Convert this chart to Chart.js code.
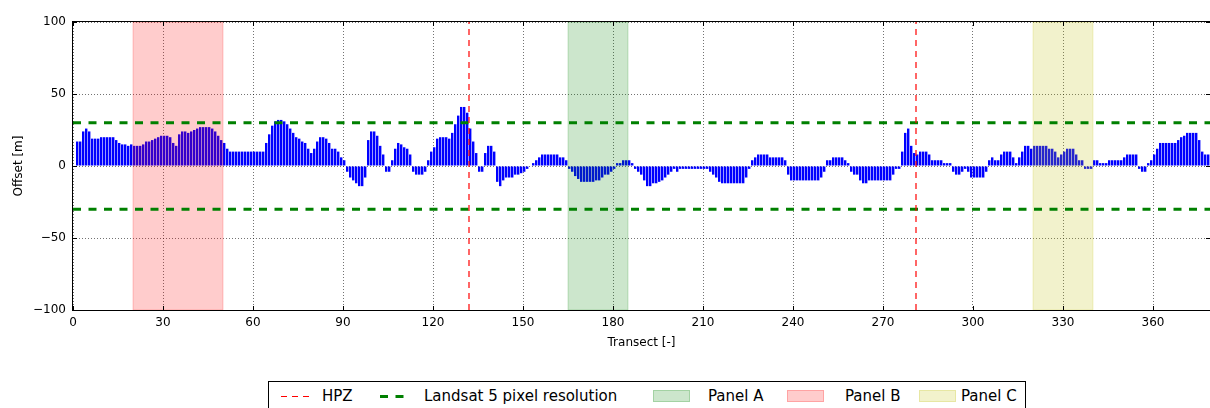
<!DOCTYPE html>
<html>
<head>
<meta charset="utf-8">
<script src="https://cdn.jsdelivr.net/npm/chart.js@4.4.0/dist/chart.umd.min.js"></script>
<style>
  body { margin: 0; background: #fff; width: 1210px; height: 408px; overflow: hidden; position: relative; font-family: "DejaVu Sans", sans-serif; }
  #wrap { position: absolute; left: 0; top: 0; width: 1210px; height: 360px; }
  .legend { position: absolute; left: 268px; top: 381px; width: 758px; height: 40px; border: 1px solid #000; box-sizing: border-box; background: #fff; }
  .legend .it { position: absolute; top: 5px; font-size: 15px; line-height: 18px; color: #000; white-space: nowrap; }
  .legend svg { position: absolute; top: 6px; }
  .legend .patch { position: absolute; top: 8px; width: 37px; height: 12px; box-sizing: border-box; }
</style>
</head>
<body>
<div id="wrap"><canvas id="myChart" width="1210" height="360"></canvas></div>
<div class="legend" id="legend"></div>
<script>
// bar offsets per transect, index = transect number
const offsets = [
  0,17,17,24,26,24,19,19,19,20,
  20,20,20,20,18,16,15,15,14,15,
  14,14,14,15,17,17,18,19,20,21,
  21,21,20,16,14,22,24,24,23,24,
  25,26,27,27,27,27,26,24,21,18,
  16,12,10,10,10,10,10,10,10,10,
  10,10,10,10,16,22,28,31,32,32,
  31,29,26,23,20,19,17,16,12,9,
  12,17,20,20,19,16,12,12,10,6,
  4,-4,-8,-10,-12,-14,-14,-8,18,24,
  24,21,14,8,-4,-4,4,12,16,15,
  13,12,8,-4,-6,-6,-6,-4,4,10,
  13,19,20,20,20,19,23,29,35,41,
  41,37,26,17,9,-4,-4,9,14,14,
  10,-11,-14,-10,-8,-8,-8,-6,-6,-5,
  -4,-2,0,2,4,6,8,8,8,8,
  8,8,6,6,4,-2,-4,-7,-9,-11,
  -11,-11,-11,-11,-10,-10,-8,-6,-6,-4,
  -2,2,2,4,4,4,2,-2,-4,-6,
  -10,-14,-14,-12,-12,-11,-10,-8,-6,-4,
  -2,-4,-2,-2,-2,-2,-2,-2,-2,-2,
  -2,-2,-4,-6,-8,-11,-12,-12,-12,-12,
  -12,-12,-12,-12,-8,-2,4,6,8,8,
  8,8,6,6,6,6,6,4,-6,-10,
  -10,-10,-10,-10,-10,-10,-10,-10,-10,-8,
  -4,4,4,6,6,6,6,4,2,-4,
  -6,-6,-10,-12,-12,-10,-10,-10,-10,-10,
  -10,-10,-10,-6,-2,-2,10,23,26,14,
  9,8,10,10,10,8,4,4,4,4,
  2,2,2,-4,-6,-6,-4,-2,-4,-8,
  -8,-8,-8,-8,-4,4,6,4,4,8,
  10,10,10,6,2,6,10,14,14,12,
  14,14,14,14,14,12,12,10,6,8,
  10,12,12,12,8,4,4,-2,-2,-2,
  4,4,2,2,2,4,4,4,4,4,
  6,8,8,8,8,-2,-4,-4,2,4,
  8,12,16,16,16,16,16,16,18,20,
  21,23,23,23,23,18,10,8,8
];
const xMax = 379;
const xTicks = [0, 30, 60, 90, 120, 150, 180, 210, 240, 270, 300, 330, 360];
const yTicks = [-100, -50, 0, 50, 100];
const hpz = [132, 281];
const landsat = [30, -30];
const panelNames = ['Panel A', 'Panel B', 'Panel C'];
const panelFrom = [165, 20, 320];
const panelTo = [185, 50, 340];
const panelColors = ['rgba(0,128,0,0.2)', 'rgba(255,0,0,0.2)', 'rgba(191,191,0,0.2)'];

const barWidth = 0.8; // matplotlib edge-aligned bars
const barData = offsets.map((v, i) => ({x: i + barWidth / 2, y: v}));

const datasets = [{
  type: 'bar',
  label: 'offset',
  data: barData,
  backgroundColor: '#0000ff',
  borderWidth: 0,
  barPercentage: barWidth,
  categoryPercentage: 1,
  order: 5
}];
hpz.forEach(function(x) {
  datasets.push({
    type: 'line', label: 'HPZ',
    data: [{x: x, y: -100}, {x: x, y: 100}],
    borderColor: '#ff0000', borderWidth: 1.2, borderDash: [6, 5],
    pointRadius: 0, order: 1
  });
});
landsat.forEach(function(y) {
  datasets.push({
    type: 'line', label: 'Landsat 5 pixel resolution',
    data: [{x: 0, y: y}, {x: xMax, y: y}],
    borderColor: '#008000', borderWidth: 3, borderDash: [8, 7.5],
    pointRadius: 0, order: 2
  });
});

const spans = {
  id: 'spans',
  afterDatasetDraw(chart, args) {
    if (args.meta.type !== 'bar') return;
    const ctx = chart.ctx, xs = chart.scales.x, a = chart.chartArea;
    ctx.save();
    for (let i = 0; i < panelNames.length; i++) {
      const x0 = xs.getPixelForValue(panelFrom[i]);
      const x1 = xs.getPixelForValue(panelTo[i]);
      ctx.fillStyle = panelColors[i];
      ctx.fillRect(x0, a.top, x1 - x0, a.bottom - a.top);
      ctx.strokeStyle = panelColors[i];
      ctx.lineWidth = 1;
      ctx.strokeRect(x0, a.top, x1 - x0, a.bottom - a.top);
    }
    ctx.restore();
  }
};

const frame = {
  id: 'frame',
  afterDraw(chart) {
    const ctx = chart.ctx, a = chart.chartArea;
    const xs = chart.scales.x, ys = chart.scales.y;
    ctx.save();
    ctx.strokeStyle = '#000';
    ctx.lineWidth = 1;
    ctx.strokeRect(Math.round(a.left) - 0.5, Math.round(a.top) - 0.5, Math.round(a.right - a.left) + 1, Math.round(a.bottom - a.top) + 1);
    ctx.beginPath();
    xTicks.forEach(function(t) {
      const px = Math.round(xs.getPixelForValue(t)) + 0.5;
      ctx.moveTo(px, a.bottom); ctx.lineTo(px, a.bottom - 4);
      ctx.moveTo(px, a.top); ctx.lineTo(px, a.top + 4);
    });
    yTicks.forEach(function(t) {
      const py = Math.round(ys.getPixelForValue(t)) + 0.5;
      ctx.moveTo(a.left, py); ctx.lineTo(a.left + 4, py);
      ctx.moveTo(a.right, py); ctx.lineTo(a.right - 4, py);
    });
    ctx.stroke();
    ctx.restore();
  }
};

const ctx = document.getElementById('myChart').getContext('2d');
const myChart = new Chart(ctx, {
  type: 'bar',
  data: { datasets: datasets },
  options: {
    responsive: false,
    animation: false,
    events: [],
    layout: { padding: { top: 22, right: 0, bottom: 0, left: 0 } },
    plugins: { legend: { display: false }, tooltip: { enabled: false } },
    scales: {
      x: {
        type: 'linear', min: 0, max: xMax, offset: false,
        afterBuildTicks: function(axis) { axis.ticks = xTicks.map(v => ({value: v})); },
        afterFit: function(axis) { axis.height = 50; },
        ticks: { includeBounds: false, color: '#000', padding: 6, maxRotation: 0, autoSkip: false,
                 font: { family: 'DejaVu Sans', size: 12 } },
        grid: { offset: false, color: 'rgba(0,0,0,0.55)', lineWidth: 1, drawTicks: false },
        border: { display: false, dash: [1, 2] },
        title: { display: true, text: 'Transect [-]', color: '#000', padding: { top: 2, bottom: 10 },
                 font: { family: 'DejaVu Sans', size: 12 } }
      },
      y: {
        min: -100, max: 100,
        afterBuildTicks: function(axis) { axis.ticks = yTicks.map(v => ({value: v})); },
        afterFit: function(axis) { axis.width = 73; },
        ticks: { color: '#000', padding: 7,
                 callback: v => String(v).replace('-', '\u2212'),
                 font: { family: 'DejaVu Sans', size: 12 } },
        grid: { offset: false, color: 'rgba(0,0,0,0.55)', lineWidth: 1, drawTicks: false },
        border: { display: false, dash: [1, 2] },
        title: { display: true, text: 'Offset [m]', color: '#000', padding: { top: 12, bottom: 0 },
                 font: { family: 'DejaVu Sans', size: 12 } }
      }
    }
  },
  plugins: [spans, frame]
});

// legend below the chart
const legend = document.getElementById('legend');
function addLine(left, color, width, dash, text, textLeft) {
  legend.insertAdjacentHTML('beforeend',
    '<svg width="28" height="16" style="left:' + left + 'px"><line x1="0" y1="8.5" x2="28" y2="8.5" stroke="' + color +
    '" stroke-width="' + width + '" stroke-dasharray="' + dash + '"/></svg>' +
    '<span class="it" style="left:' + textLeft + 'px">' + text + '</span>');
}
addLine(12, '#ff0000', 1.2, '6,5', 'HPZ', 53);
addLine(111, '#008000', 3, '8,7.5', 'Landsat 5 pixel resolution', 155);
const patchLeft = [384, 518, 650];
const textLeft = [439, 576, 692];
for (let i = 0; i < panelNames.length; i++) {
  legend.insertAdjacentHTML('beforeend',
    '<div class="patch" style="left:' + patchLeft[i] + 'px;background:' + panelColors[i] + ';border:1px solid ' + panelColors[i] + '"></div>' +
    '<span class="it" style="left:' + textLeft[i] + 'px">' + panelNames[i] + '</span>');
}
</script>
</body>
</html>
